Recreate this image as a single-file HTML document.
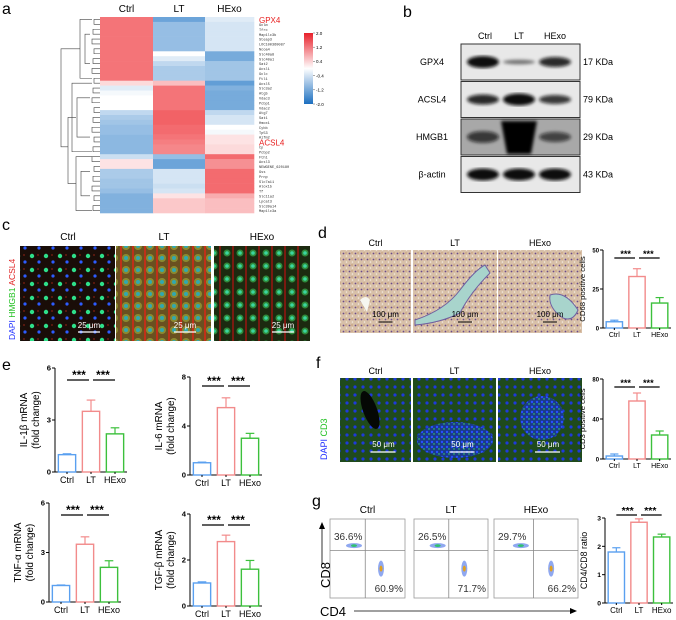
<!DOCTYPE html>
<html><head><meta charset="utf-8">
<style>
body{margin:0;background:#fff;}
svg{display:block;font-family:"Liberation Sans",Arial,sans-serif;}
</style></head>
<body>
<svg id="fig" width="676" height="620" viewBox="0 0 676 620" xmlns="http://www.w3.org/2000/svg">
<defs>
<pattern id="ifC" width="14" height="14" patternUnits="userSpaceOnUse"><rect width="14" height="14" fill="#1a0d08"/><circle cx="4" cy="4" r="2.2" fill="#2ee08a"/><circle cx="11" cy="10" r="1.6" fill="#2d5cff"/><circle cx="10" cy="3" r="1" fill="#6a1c10"/></pattern>
<pattern id="ifL" width="12" height="12" patternUnits="userSpaceOnUse"><rect width="12" height="12" fill="#6a5020"/><circle cx="6" cy="6" r="4" fill="#8a8a30"/><circle cx="6" cy="6" r="2" fill="#30a8b0"/><rect x="0" y="0" width="2" height="12" fill="#c03018"/></pattern>
<pattern id="ifH" width="13" height="13" patternUnits="userSpaceOnUse"><rect width="13" height="13" fill="#1c2a10"/><circle cx="6" cy="6" r="3.5" fill="#2f8a3a"/><circle cx="6" cy="6" r="1.8" fill="#3ad6a0"/><rect x="11" y="0" width="2" height="13" fill="#7a1a10"/></pattern>
<pattern id="ihc" width="6" height="6" patternUnits="userSpaceOnUse"><rect width="6" height="6" fill="#d8c0a8"/><circle cx="1.5" cy="1.5" r="0.9" fill="#6a4a8a"/><circle cx="4.5" cy="4" r="0.8" fill="#f4ece0"/><circle cx="4" cy="1" r="0.5" fill="#a0602a"/></pattern>
<pattern id="cd3" width="8" height="8" patternUnits="userSpaceOnUse"><rect width="8" height="8" fill="#1f4a1c"/><circle cx="3" cy="3" r="1.6" fill="#1e3adc"/></pattern>
<pattern id="cd3b" width="5" height="5" patternUnits="userSpaceOnUse"><rect width="5" height="5" fill="#1a3a8a"/><circle cx="2" cy="2" r="1.2" fill="#2850ff"/><circle cx="4" cy="4" r="0.7" fill="#3ae060"/></pattern>
<linearGradient id="cbar" x1="0" y1="0" x2="0" y2="1"><stop offset="0" stop-color="#e8202a"/><stop offset="0.5" stop-color="#ffffff"/><stop offset="1" stop-color="#1c6fc0"/></linearGradient>
<filter id="blur1"><feGaussianBlur stdDeviation="1.5"/></filter>
</defs>
<g id="root"></g>
</svg>
<script>
// ---------- Heatmap data (panel a) ----------
const geneLabels=["GPX4","Gclm","Tfrc","Map1lc3b","Steap3","LOC100360087","Ncoa4","Slc40a8","Slc40a1","Sat2","Acsl1","Gclc","Ftl1","Acsl5","Slc3a2","Atg5","Vdac3","Pcbp1","Vdac2","Atg7","Sat1","Hmox1","Cybb","Tp53","Aifm2","ACSL4","Cp","Pcbp2","Fth1","Acsl3","NEWGENE_620180","Gss","Prnp","Slc7a11","Alox15","Tf","Slc11a2","Lpcat3","Slc39a14","Map1lc3a"];
const heatCtrl=[1.5,1.5,1.5,1.5,1.5,1.5,1.5,1.5,1.5,1.5,1.5,1.5,1.5,0.4,-0.3,-0.1,0,0,0,-0.6,-0.8,-0.9,-1.0,-1.0,-1.1,-1.1,-1.1,-1.1,-0.5,0.3,0.3,-0.8,-0.8,-0.9,-0.9,-1.0,-1.2,-1.2,-1.2,-1.2];
const heatLT=[-1.4,-1.0,-1.0,-1.0,-1.0,-1.0,-1.0,0.0,-0.3,-0.6,-0.8,-0.8,-0.8,0.7,1.5,1.5,1.5,1.5,1.5,1.7,1.7,1.7,1.6,1.6,1.5,1.4,1.3,1.3,-1.0,-1.4,-1.4,-0.4,-0.4,-0.4,-0.5,-0.4,0.3,0.6,0.6,0.6];
const heatHExo=[-0.3,-0.4,-0.4,-0.4,-0.4,-0.4,-0.4,-1.3,-1.3,-0.9,-0.9,-0.9,-0.9,-1.5,-1.2,-1.3,-1.3,-1.3,-1.3,-0.6,-0.4,-0.4,0.0,-0.1,0.3,0.3,0.4,0.4,1.6,1.2,1.2,1.6,1.6,1.6,1.6,1.6,0.9,0.7,0.7,0.7];
const heatCols=["Ctrl","LT","HExo"];
const cbTicks=["2.0","1.2","0.4","-0.4","-1.2","-2.0"];

// ---------- Bar chart data ----------
const groups=["Ctrl","LT","HExo"];
const il1bVals=[1.0,3.5,2.2], il1bErr=[0.05,0.65,0.35], il1bTicks=[0,3,6];
const il6Vals=[1.0,5.5,3.0], il6Err=[0.05,0.8,0.4], il6Ticks=[0,4,8];
const tnfVals=[1.0,3.5,2.1], tnfErr=[0.03,0.45,0.4], tnfTicks=[0,3,6];
const tgfVals=[1.0,2.8,1.6], tgfErr=[0.05,0.28,0.38], tgfTicks=[0,2,4];
const cd68Vals=[4,33,16], cd68Err=[1,5,3.5], cd68Ticks=[0,25,50];
const cd3Vals=[3,58,24], cd3Err=[2,8,4], cd3Ticks=[0,40,80];
const ratioVals=[1.8,2.85,2.33], ratioErr=[0.15,0.12,0.1], ratioTicks=[0,1,2,3];
const flowUL=["36.6%","26.5%","29.7%"], flowLR=["60.9%","71.7%","66.2%"];

const NS="http://www.w3.org/2000/svg";
const root=document.getElementById('root');
function mk(tag,attrs,parent,txt){const e=document.createElementNS(NS,tag);for(const k in attrs)e.setAttribute(k,attrs[k]);if(txt!==undefined)e.textContent=txt;(parent||root).appendChild(e);return e;}

// panel letters
[["a",2,14],["b",403,17],["c",2,230],["d",318,238],["e",2,370],["f",316,368],["g",312,506]].forEach(p=>{
 const t=mk('text',{x:p[1],y:p[2],'font-size':16},root,p[0]);
 
 
});

// ---------- Panel a heatmap ----------
function heatColor(v){v=Math.max(-2,Math.min(2,v));let t=Math.abs(v)/2;
 const end=v>=0?[240,70,75]:[45,125,200];
 const r=Math.round(255+(end[0]-255)*t),g=Math.round(255+(end[1]-255)*t),b=Math.round(255+(end[2]-255)*t);return `rgb(${r},${g},${b})`;}
const hx0=100,hy0=17,hColW=[53,52,49],hRowH=196/geneLabels.length;
const ha=mk('g',{});  
const heatData=[heatCtrl,heatLT,heatHExo];
let cx=hx0;
heatCols.forEach((c,ci)=>{
 const t=mk('text',{x:cx+hColW[ci]/2,y:12,'font-size':10,'text-anchor':'middle'},ha,c);
  
 heatData[ci].forEach((v,ri)=>{
  const r=mk('rect',{x:cx,y:hy0+ri*hRowH,width:hColW[ci]+0.3,height:hRowH+0.3,fill:heatColor(v)},ha);
   
 });
 cx+=hColW[ci];
});
geneLabels.forEach((g,ri)=>{
 const big=(g==="GPX4"||g==="ACSL4");
 const t=mk('text',{x:259,y:hy0+ri*hRowH+hRowH/2+(big?3.5:1.6),'font-size':big?8:3.6,fill:big?'#e82020':'#333','font-family':big?'Liberation Sans':'Liberation Mono'},ha,g);
  
});
// dendrogram (simplified)
const dg=mk('g',{stroke:'#444','stroke-width':0.6,fill:'none'});
 
function rowY(i){return hy0+i*hRowH+hRowH/2;}
for(let i=0;i<40;i+=2){const x=94-((i/2)%3);mk('path',{d:`M100 ${rowY(i)} H${x} V${rowY(i+1)} H100`},dg);}
const clusters=[[0,12,80],[13,27,72],[28,39,76]];
clusters.forEach(c=>{mk('path',{d:`M92 ${rowY(c[0])} H${c[2]} V${rowY(c[1])} H92`},dg);
 mk('path',{d:`M90 ${rowY(c[0]+3)} H${c[2]+5} V${rowY(c[1]-3)} H90`},dg);});
mk('path',{d:`M76 ${(rowY(13)+rowY(27))/2} H68 V${(rowY(28)+rowY(39))/2} H76`},dg);
mk('path',{d:`M80 ${(rowY(0)+rowY(12))/2} H61 V${(rowY(13)+rowY(39))/2} H68`},dg);
// colorbar
const cb=mk('g',{});  
mk('rect',{x:304,y:33,width:9,height:71,fill:'url(#cbar)'},cb);
cbTicks.forEach((t,i)=>{const y=33+i*71/5;mk('line',{x1:313,x2:315,y1:y,y2:y,stroke:'#555','stroke-width':0.5},cb);mk('text',{x:316,y:y+1.8,'font-size':4.5},cb,t);});

// ---------- Panel b western blot ----------
const wb=mk('g',{});  
const lanes=[485,519,555];
groups.forEach((g,i)=>{mk('text',{x:lanes[i],y:39,'font-size':9,'text-anchor':'middle'},wb,g);});
const blots=[["GPX4","17 KDa",[1,0.25,0.8],5],["ACSL4","79 KDa",[0.8,1,0.7],5],["HMGB1","29 KDa",[0.6,2,0.5],8],["β-actin","43 KDa",[1,1,1],5]];
blots.forEach((b,i)=>{const y0=44+i*37.5;
 const bg=mk('g',{},wb);  
 mk('rect',{x:461,y:y0,width:119,height:36,fill:i==2?'#a8a8a8':'#e8e8e8',stroke:'#333','stroke-width':1},bg);
 const bands=mk('g',{filter:'url(#blur1)'},bg);
 b[2].forEach((v,j)=>{
  if(v>1.5){mk('path',{d:`M${lanes[j]-18} ${y0+2} L${lanes[j]+18} ${y0+2} L${lanes[j]+12} ${y0+35} L${lanes[j]-12} ${y0+35}Z`,fill:'#050505'},bands);}
  else mk('ellipse',{cx:lanes[j]+(j==0?-2:0),cy:y0+18,rx:16,ry:b[3]*v+1,fill:`rgba(10,10,10,${0.35+0.65*v})`},bands);
 });
 mk('text',{x:432,y:y0+21,'font-size':9,'text-anchor':'middle'},bg,b[0]);
 mk('text',{x:583,y:y0+21,'font-size':9},bg,b[1]);
});

// ---------- Panel c IF images ----------
const pc=mk('g',{});  
const cImgs=[[20,'url(#ifC)'],[116,'url(#ifL)'],[214,'url(#ifH)']];
cImgs.forEach((im,i)=>{mk('text',{x:im[0]+48,y:240,'font-size':10,'text-anchor':'middle'},pc,groups[i]);
 mk('rect',{x:im[0],y:246,width:i==2?96:95,height:95,fill:im[1]},pc);
 mk('line',{x1:im[0]+58,x2:im[0]+80,y1:332,y2:332,stroke:'#fff','stroke-width':1.2},pc);
 mk('text',{x:im[0]+69,y:328,'font-size':8,fill:'#fff','text-anchor':'middle'},pc,'25 μm');});
const vl=mk('text',{transform:'translate(15,340) rotate(-90)','font-size':8.5},pc);
mk('tspan',{fill:'#2030ff'},vl,'DAPI ');mk('tspan',{fill:'#20c020'},vl,'HMGB1 ');mk('tspan',{fill:'#e02020'},vl,'ACSL4');

// ---------- Panel d IHC ----------
const pd=mk('g',{});  
[[340,71],[413,84],[498,84]].forEach((im,i)=>{mk('text',{x:im[0]+im[1]/2,y:246,'font-size':9,'text-anchor':'middle'},pd,groups[i]);
 mk('rect',{x:im[0],y:250,width:im[1],height:83,fill:'url(#ihc)'},pd);
 if(i==0)mk('path',{d:'M360 300 q6 -6 10 0 l-3 12z',fill:'#f6f6f0'},pd);
 if(i==1)mk('path',{d:'M415 320 q30 -10 45 -30 q15 -20 25 -25 l5 8 q-20 20 -30 40 q-20 10 -45 12z',fill:'#a8d4cc',stroke:'#7060a0','stroke-width':1},pd);
 if(i==2)mk('path',{d:'M550 295 q15 -5 28 15 q-5 12 -15 8 q-15 -10 -13 -23z',fill:'#a8d4cc',stroke:'#7060a0','stroke-width':1},pd);
 mk('line',{x1:im[0]+im[1]/2+3,x2:im[0]+im[1]/2+17,y1:322,y2:322,stroke:'#000','stroke-width':1},pd);
 mk('text',{x:im[0]+im[1]/2+10,y:317,'font-size':8,'text-anchor':'middle'},pd,'100 μm');});

// ---------- Panel f CD3 IF ----------
const pf=mk('g',{});  
[[340,71],[413,83],[498,84]].forEach((im,i)=>{mk('text',{x:im[0]+im[1]/2,y:374,'font-size':9,'text-anchor':'middle'},pf,groups[i]);
 mk('rect',{x:im[0],y:378,width:im[1],height:84,fill:'url(#cd3)'},pf);
 if(i==0)mk('ellipse',{cx:370,cy:410,rx:7,ry:20,fill:'#050805',transform:'rotate(-20 370 410)'},pf);
 if(i==1)mk('ellipse',{cx:455,cy:440,rx:38,ry:18,fill:'url(#cd3b)'},pf);
 if(i==2)mk('ellipse',{cx:542,cy:418,rx:22,ry:22,fill:'url(#cd3b)'},pf);
 mk('line',{x1:im[0]+im[1]/2-5,x2:im[0]+im[1]/2+20,y1:452,y2:452,stroke:'#fff','stroke-width':1.2},pf);
 mk('text',{x:im[0]+im[1]/2+8,y:447,'font-size':8,fill:'#fff','text-anchor':'middle'},pf,'50 μm');});
const vf=mk('text',{transform:'translate(327,460) rotate(-90)','font-size':9},pf);
mk('tspan',{fill:'#2030ff'},vf,'DAPI ');mk('tspan',{fill:'#20c020'},vf,'CD3');

// ---------- Panel g flow ----------
const pg=mk('g',{});  
[[330,75],[414,74],[494,84]].forEach((b,i)=>{
 mk('text',{x:b[0]+b[1]/2,y:513,'font-size':10,'text-anchor':'middle'},pg,groups[i]);
 mk('rect',{x:b[0],y:519,width:b[1],height:79,fill:'#fff',stroke:'#999','stroke-width':0.8},pg);
 const gx=b[0]+b[1]*0.47, gy=519+79*0.4;
 mk('line',{x1:gx,x2:gx,y1:519,y2:598,stroke:'#888','stroke-width':0.8},pg);
 mk('line',{x1:b[0],x2:b[0]+b[1],y1:gy,y2:gy,stroke:'#888','stroke-width':0.8},pg);
 mk('ellipse',{cx:b[0]+b[1]*0.32,cy:gy-5,rx:8,ry:2.5,fill:'#8fa8f0'},pg);
 mk('ellipse',{cx:b[0]+b[1]*0.32,cy:gy-5,rx:3,ry:1.4,fill:'#30c070'},pg);
 mk('ellipse',{cx:b[0]+b[1]*0.68,cy:gy+18,rx:3,ry:8,fill:'#8fa8f0'},pg);
 mk('ellipse',{cx:b[0]+b[1]*0.68,cy:gy+18,rx:1.5,ry:3,fill:'#e0a020'},pg);
 mk('text',{x:b[0]+4,y:540,'font-size':10,fill:'#333'},pg,flowUL[i]);
 mk('text',{x:b[0]+b[1]-2,y:592,'font-size':10,fill:'#333','text-anchor':'end'},pg,flowLR[i]);
});
mk('text',{transform:'translate(330,588) rotate(-90)','font-size':13},pg,'CD8');
mk('line',{x1:322,x2:322,y1:565,y2:527,stroke:'#000','stroke-width':0.8},pg);
mk('path',{d:'M319 529 L322 522 L325 529Z'},pg);
mk('text',{x:320,y:616,'font-size':13},pg,'CD4');
mk('line',{x1:354,x2:572,y1:611,y2:611,stroke:'#000','stroke-width':0.8},pg);
mk('path',{d:'M570 608 L577 611 L570 614Z'},pg);

// ---------- bar charts ----------
const barColors=['#5aa0f0','#f28b8b','#3cc03c'];
function barChart(name,vals,errs,ticks,ax,ylabel,ylabel2,fs){
 const g=mk('g',{});  
 const max=ticks[ticks.length-1];
 const y=v=>ax.y0-(v/max)*(ax.y0-ax.yTop);
 mk('line',{x1:ax.x,x2:ax.x,y1:ax.yTop,y2:ax.y0,stroke:'#000','stroke-width':1},g);
 mk('line',{x1:ax.x,x2:ax.x+ax.w,y1:ax.y0,y2:ax.y0,stroke:'#000','stroke-width':1},g);
 ticks.forEach(t=>{mk('line',{x1:ax.x-3,x2:ax.x,y1:y(t),y2:y(t),stroke:'#000'},g);
  mk('text',{x:ax.x-4,y:y(t)+2.5,'font-size':fs*0.85,'text-anchor':'end','font-weight':'bold'},g,t);});
 const slot=ax.w/3;
 vals.forEach((v,i)=>{const cx=ax.x+slot*(i+0.5)+ax.off, bw=slot*0.72;
  const r=mk('rect',{x:cx-bw/2,y:y(v),width:bw,height:ax.y0-y(v),fill:'none',stroke:barColors[i],'stroke-width':1.4},g);
   
  mk('line',{x1:cx,x2:cx,y1:y(v),y2:y(v+errs[i]),stroke:barColors[i],'stroke-width':1.2},g);
  mk('line',{x1:cx-bw/4,x2:cx+bw/4,y1:y(v+errs[i]),y2:y(v+errs[i]),stroke:barColors[i],'stroke-width':1.2},g);
  mk('line',{x1:cx,x2:cx,y1:ax.y0,y2:ax.y0+2,stroke:'#000'},g);
  mk('text',{x:cx,y:ax.y0+fs+2,'font-size':fs,'text-anchor':'middle'},g,groups[i]);
 });
 const sy=ax.yTop+(ax.sig||8);
 const c0=ax.x+slot*0.5+ax.off,c1=ax.x+slot*1.5+ax.off,c2=ax.x+slot*2.5+ax.off;
 mk('line',{x1:c0,x2:c1-2,y1:sy,y2:sy,stroke:'#000','stroke-width':1.2},g);
 mk('line',{x1:c1+2,x2:c2,y1:sy,y2:sy,stroke:'#000','stroke-width':1.2},g);
 mk('text',{x:(c0+c1)/2,y:sy-1,'font-size':fs*1.3,'text-anchor':'middle','font-weight':'bold'},g,'***');
 mk('text',{x:(c1+c2)/2,y:sy-1,'font-size':fs*1.3,'text-anchor':'middle','font-weight':'bold'},g,'***');
 const my=(ax.yTop+ax.y0)/2;
 if(ylabel2){mk('text',{transform:`translate(${ax.x-ax.lab},${my}) rotate(-90)`,'font-size':fs*1.1,'text-anchor':'middle'},g,ylabel);
  mk('text',{transform:`translate(${ax.x-ax.lab+12},${my}) rotate(-90)`,'font-size':fs*1.1,'text-anchor':'middle'},g,ylabel2);}
 else mk('text',{transform:`translate(${ax.x-ax.lab},${my}) rotate(-90)`,'font-size':fs*1.1,'text-anchor':'middle'},g,ylabel);
}
barChart('il1b-chart',il1bVals,il1bErr,il1bTicks,{x:55,yTop:368,y0:472,w:72,off:0,lab:28,sig:12},'IL-1β mRNA','(fold change)',9);
barChart('il6-chart',il6Vals,il6Err,il6Ticks,{x:190,yTop:377,y0:475,w:72,off:0,lab:28,sig:9},'IL-6 mRNA','(fold change)',9);
barChart('tnf-chart',tnfVals,tnfErr,tnfTicks,{x:49,yTop:503,y0:602,w:72,off:0,lab:28,sig:12},'TNF-α mRNA','(fold change)',9);
barChart('tgf-chart',tgfVals,tgfErr,tgfTicks,{x:190,yTop:514,y0:606,w:72,off:0,lab:28,sig:11},'TGF-β mRNA','(fold change)',9);
barChart('cd68-chart',cd68Vals,cd68Err,cd68Ticks,{x:603,yTop:250,y0:328,w:68,off:0,lab:18,sig:8},'CD68 positive cells',null,7);
barChart('cd3-chart',cd3Vals,cd3Err,cd3Ticks,{x:603,yTop:379,y0:459,w:68,off:0,lab:18,sig:8},'CD3 positive cells',null,7);
barChart('ratio-chart',ratioVals,ratioErr,ratioTicks,{x:605,yTop:518,y0:603,w:68,off:0,lab:18,sig:-3},'CD4/CD8 ratio',null,8);
</script>
</body></html>
